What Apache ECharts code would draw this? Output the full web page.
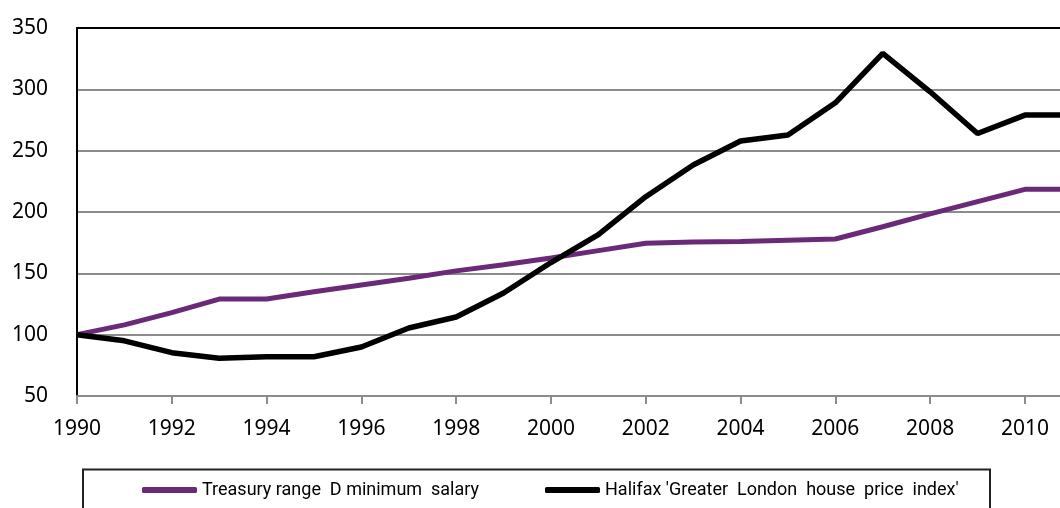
<!DOCTYPE html>
<html>
<head>
<meta charset="utf-8">
<script src="https://cdn.jsdelivr.net/npm/echarts@6/dist/echarts.min.js"></script>
<style>html,body{margin:0;padding:0;background:#fff;}#c{width:1060px;height:508px;}</style>
</head>
<body>
<div id="c"></div>
<script>
const years = [1990,1991,1992,1993,1994,1995,1996,1997,1998,1999,2000,2001,2002,2003,2004,2005,2006,2007,2008,2009,2010,2011];
const treasury = [100,108,118,129,129,135,140.5,146,152,157,162.5,168.5,174.5,175.5,176,177,178,188,198.5,208.5,218.5,218.5];
const halifax = [100,95,85.3,80.7,82,82,90,105.4,114.4,134,158.8,181.5,212.5,238.3,257.9,262.8,289,329.3,298,264,279,279];
const seriesNames = ["Treasury range  D minimum  salary", "Halifax 'Greater  London  house  price  index'"];
const yTicks = {min: 50, max: 350, interval: 50};

const chart = echarts.init(document.getElementById('c'), null, {renderer: 'canvas'});
const pair = a => years.map((y, i) => [y, a[i]]);
const axisFont = {fontFamily: "'Noto Sans', sans-serif", fontSize: 21, color: '#000'};
const legendFont = {fontFamily: "Roboto, sans-serif", fontSize: 18, color: '#000'};
chart.setOption({
  animation: false,
  backgroundColor: '#fff',
  grid: {left: 77, right: 0, top: 28, bottom: 112, containLabel: false},
  xAxis: [{
    type: 'value', min: 1990, max: 2010.74, interval: 2, position: 'bottom',
    axisLine: {show: true, lineStyle: {color: '#8c8c8c', width: 2}},
    axisTick: {show: true, length: 8, lineStyle: {color: '#8c8c8c', width: 2}},
    splitLine: {show: false},
    axisLabel: Object.assign({margin: 23, showMaxLabel: false,
      formatter: v => (Math.abs(v - Math.round(v)) < 1e-6 && Math.round(v) % 2 === 0) ? String(Math.round(v)) : ''}, axisFont)
  }, {
    type: 'value', min: 1990, max: 2010.74, position: 'top',
    axisLine: {show: true, lineStyle: {color: '#000', width: 2}},
    axisTick: {show: false}, axisLabel: {show: false}, splitLine: {show: false}
  }],
  yAxis: {
    type: 'value', min: yTicks.min, max: yTicks.max, interval: yTicks.interval,
    axisLine: {show: true, lineStyle: {color: '#000', width: 2}},
    axisTick: {show: false},
    splitLine: {show: true, lineStyle: {color: '#8c8c8c', width: 2}},
    axisLabel: Object.assign({margin: 29}, axisFont)
  },
  graphic: [{
    type: 'rect', shape: {x: 83, y: 469.5, width: 907, height: 60},
    style: {fill: 'none', stroke: '#222', lineWidth: 2}, z: 10
  }],
  legend: [{
    data: [seriesNames[0]], left: 142, top: 481, itemWidth: 55, itemHeight: 6, itemGap: 10,
    icon: 'roundRect', textStyle: legendFont, padding: 0
  }, {
    data: [seriesNames[1]], left: 545, top: 481, itemWidth: 55, itemHeight: 6, itemGap: 10,
    icon: 'roundRect', textStyle: legendFont, padding: 0
  }],
  series: [{
    name: seriesNames[0], type: 'line', data: pair(treasury), showSymbol: false, symbol: 'none',
    lineStyle: {color: '#6a2a78', width: 5}, itemStyle: {color: '#6a2a78'}, z: 3
  }, {
    name: seriesNames[1], type: 'line', data: pair(halifax), showSymbol: false, symbol: 'none',
    lineStyle: {color: '#000', width: 5.5}, itemStyle: {color: '#000'}, z: 4
  }]
});
</script>
</body>
</html>
